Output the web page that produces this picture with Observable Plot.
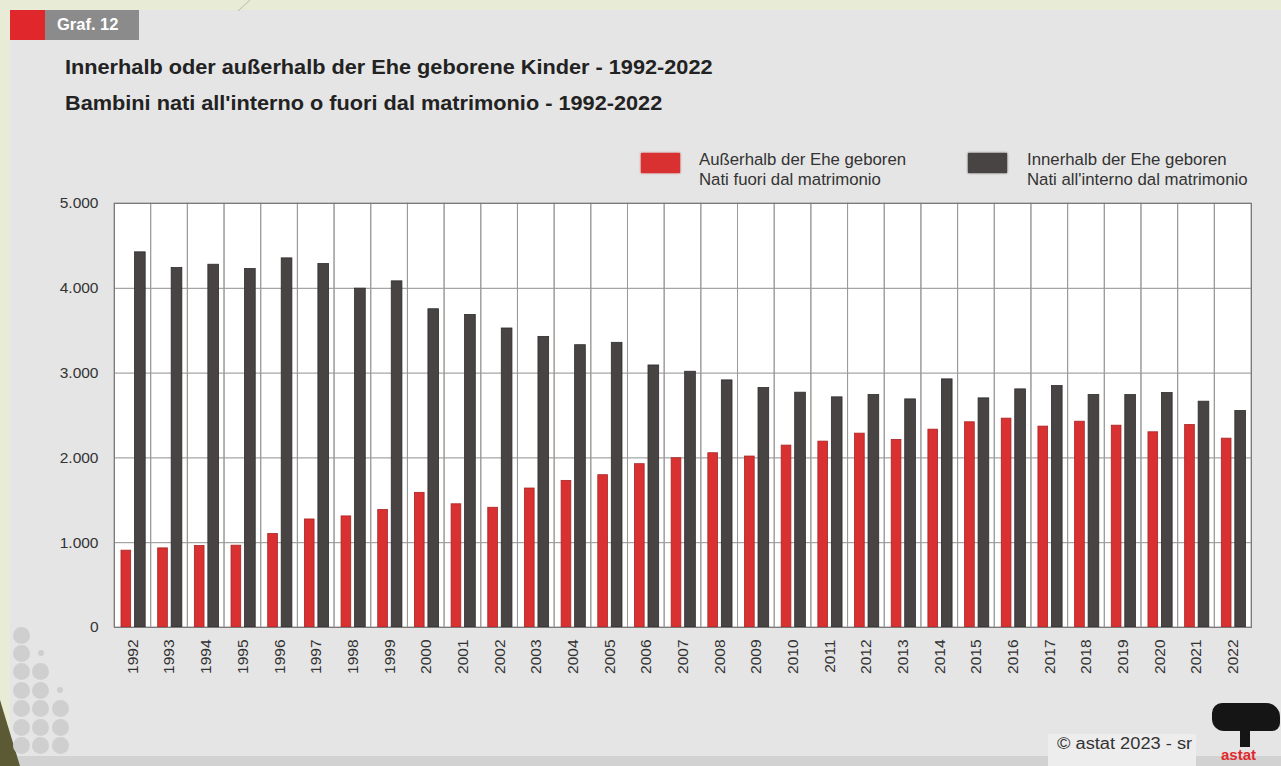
<!DOCTYPE html>
<html>
<head>
<meta charset="utf-8">
<script src="https://cdn.jsdelivr.net/npm/d3@7"></script>
<script src="https://cdn.jsdelivr.net/npm/@observablehq/plot@0.6"></script>
<style>
  html, body { margin: 0; padding: 0; }
  body { width: 1281px; height: 766px; position: relative; overflow: hidden; background: #e8ecd6; font-family: "Liberation Sans", Arial, sans-serif; }
  #panel { position: absolute; left: 10px; top: 10px; width: 1271px; height: 756px; background: #e5e5e5; }
  #bottomstrip { position: absolute; left: 10px; top: 756px; width: 1271px; height: 10px; background: #d2d2d2; }
  #tagred { position: absolute; left: 10px; top: 10px; width: 35px; height: 30px; background: #e0282c; }
  #taggray { position: absolute; left: 45px; top: 10px; width: 94px; height: 30px; background: #8b8b8b; }
  #tagtext { position: absolute; left: 57px; top: 15px; color: #fff; font-weight: bold; font-size: 16.5px; }
  .title { position: absolute; left: 65px; font-weight: bold; font-size: 20px; color: #222; white-space: nowrap; transform: scaleX(1.085); transform-origin: 0 50%; }
  .sw { position: absolute; width: 39px; height: 20px; }
  .lt { position: absolute; font-size: 16.8px; line-height: 20px; color: #333; white-space: nowrap; }
  .dot { position: absolute; border-radius: 50%; background: #cfcfcf; }
  #credit { position: absolute; left: 1048px; top: 734px; width: 148px; height: 32px; background: #ededed; }
  #credittext { position: absolute; left: 1057px; top: 735px; font-size: 16px; color: #333; white-space: nowrap; transform: scaleX(1.14); transform-origin: 0 50%; }
  #logo { position: absolute; left: 1212px; top: 703px; width: 68px; height: 28px; background: #151515; border-radius: 10px 14px 8px 12px; }
  #logostem { position: absolute; left: 1240px; top: 727px; width: 10px; height: 20px; background: #151515; }
  #logotext { position: absolute; left: 1221px; top: 746px; font-size: 15px; line-height: 17px; font-weight: bold; color: #e0282c; }
  #chart { position: absolute; left: 0; top: 190px; }
  #deco { position: absolute; left: 0; top: 0; }
</style>
</head>
<body>
<div id="panel"></div>
<div id="bottomstrip"></div>
<svg id="deco" width="1281" height="766">
  <line x1="238" y1="11" x2="250" y2="0" stroke="#b9bf9c" stroke-width="1"/>
  <polygon points="0,700 20,766 0,766" fill="#5b5a35"/>
</svg>
<div id="tagred"></div>
<div id="taggray"></div>
<div id="tagtext">Graf. 12</div>
<div class="title" style="top:56px">Innerhalb oder außerhalb der Ehe geborene Kinder - 1992-2022</div>
<div class="title" style="top:92px">Bambini nati all'interno o fuori dal matrimonio - 1992-2022</div>

<div class="sw" style="left:641px; top:153px; background:#d93131; box-shadow: 0 0 2px #c02020;"></div>
<div class="lt" style="left:699px; top:150px">Außerhalb der Ehe geboren<br>Nati fuori dal matrimonio</div>
<div class="sw" style="left:968px; top:153px; background:#484444; box-shadow: 0 0 2px #333;"></div>
<div class="lt" style="left:1027px; top:150px">Innerhalb der Ehe geboren<br>Nati all'interno dal matrimonio</div>

<div id="dots"></div>
<div id="credit"></div>
<div id="credittext">© astat 2023 - sr</div>
<div id="logo"></div>
<div id="logostem"></div>
<div id="logotext">astat</div>

<div id="chart"></div>
<script>
// ---- data ----
const years = ["1992","1993","1994","1995","1996","1997","1998","1999","2000","2001","2002","2003","2004","2005","2006","2007","2008","2009","2010","2011","2012","2013","2014","2015","2016","2017","2018","2019","2020","2021","2022"];
const outsideMarriage = [906,933,961,965,1102,1274,1310,1385,1588,1453,1412,1639,1729,1796,1926,1996,2055,2016,2145,2192,2286,2212,2333,2420,2463,2369,2427,2380,2302,2388,2227];
const insideMarriage = [4424,4239,4278,4227,4353,4286,3996,4082,3753,3686,3526,3427,3329,3357,3090,3016,2914,2824,2769,2714,2741,2690,2926,2702,2808,2847,2741,2741,2765,2663,2553];
const yTicks = [0,1000,2000,3000,4000,5000];

const rows = years.map((y, i) => ({year: y, outside: outsideMarriage[i], inside: insideMarriage[i]}));
const fmt = d => d === 0 ? "0" : d3.format(",")(d).replace(/,/g, ".");

const chart = Plot.plot({
  width: 1281,
  height: 500,
  marginTop: 13,
  marginBottom: 63,
  marginLeft: 114,
  marginRight: 30,
  style: {background: "transparent", fontFamily: "'Liberation Sans', Arial, sans-serif", fontSize: "15.5px", color: "#333", overflow: "visible"},
  x: {type: "band", domain: years, padding: 0, round: false, label: null, tickSize: 0, tickPadding: 12, tickRotate: -90},
  y: {domain: [0, 5000], ticks: yTicks, tickFormat: fmt, label: null, tickSize: 0, tickPadding: 16},
  marks: [
    Plot.frame({fill: "white", stroke: null}),
    Plot.gridY(yTicks, {stroke: "#8f8f8f", strokeOpacity: 1}),
    Plot.barY(years, {x: d => d, y1: 0, y2: 5000, fill: "none", stroke: "#9a9a9a", strokeWidth: 1}),
    Plot.barY(rows, {x: "year", y: "outside", fill: "#d93131", stroke: "#a82424", strokeWidth: 0.8, insetLeft: 7, insetRight: 20}),
    Plot.barY(rows, {x: "year", y: "inside", fill: "#484444", stroke: "#2e2b2b", strokeWidth: 0.8, insetLeft: 20.5, insetRight: 5.5}),
    Plot.frame({stroke: "#7a7a7a"})
  ]
});
document.getElementById("chart").appendChild(chart);

// decorative dots (left)
const dotRows = [[1,0,0],[1,2,0],[1,1,0],[1,1,2],[1,1,1],[1,1,1],[1,1,1]];
const dotsEl = document.getElementById("dots");
dotRows.forEach((r, ri) => r.forEach((v, ci) => {
  if (!v) return;
  const d = document.createElement("div");
  d.className = "dot";
  const size = v === 1 ? 17 : 6;
  const cx = 21 + ci * 19.5, cy = 635 + ri * 18.4;
  d.style.width = size + "px"; d.style.height = size + "px";
  d.style.left = (cx - size / 2) + "px"; d.style.top = (cy - size / 2) + "px";
  dotsEl.appendChild(d);
}));
</script>
</body>
</html>
